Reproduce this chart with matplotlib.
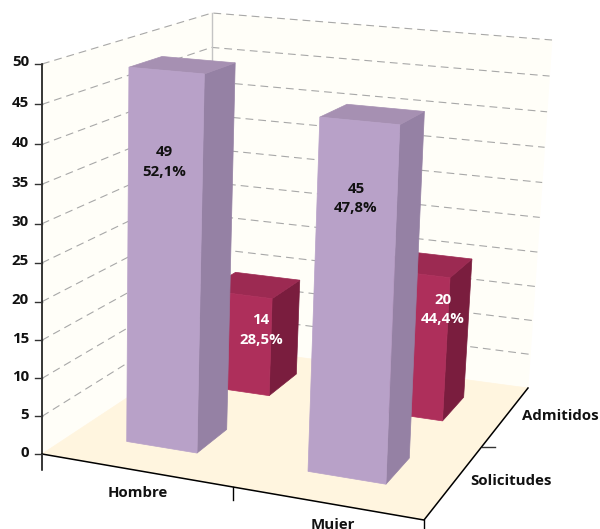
import numpy as np
import matplotlib
matplotlib.use("Agg")
import matplotlib.pyplot as plt
from matplotlib.patches import Polygon

plt.rcParams['font.family'] = ['Open Sans', 'DejaVu Sans']

# data
sexes = ["Hombre", "Mujer"]
groups = ["Solicitudes", "Admitidos"]
solicitudes = [49, 45]
admitidos = [14, 20]
pct_solicitudes = ["52,1%", "47,8%"]
pct_admitidos = ["28,5%", "44,4%"]
z_ticks = list(range(0, 55, 5))

# view geometry (pixel positions of the chart box corners)
floor_c = [(42, 454), (424, 520), (528, 388), (207, 345)]
top_c = [(38.5, 64), (439, 100), (552, 40), (212, 13)]
BOX = [(0, 0), (2, 0), (2, 2), (0, 2)]
ZMAX = 50
PERSP = 1.04
AXIS_X = 42
FS = 10.8

def homog(src, dst):
    A = []
    for (x, y), (u, v) in zip(src, dst):
        A.append([x, y, 1, 0, 0, 0, -u*x, -u*y, -u])
        A.append([0, 0, 0, x, y, 1, -v*x, -v*y, -v])
    return np.linalg.svd(np.array(A, float))[2][-1].reshape(3, 3)

HF, HT = homog(BOX, floor_c), homog(BOX, top_c)

def proj(x, y, z=0):
    a = HF @ [x, y, 1]; b = HT @ [x, y, 1]
    a = a[:2]/a[2]; b = b[:2]/b[2]
    s = z/ZMAX
    t = s/(s + (1-s)*PERSP)
    return tuple(a + (b-a)*t)

def axis_pt(z):
    return (AXIS_X, proj(0, 0, z)[1])

fig = plt.figure(figsize=(6.0, 5.29), dpi=100)
ax = fig.add_axes([0, 0, 1, 1])
ax.set_xlim(0, 600); ax.set_ylim(529, 0); ax.axis('off')

def face(pts, color, edge=None, z=1):
    ax.add_patch(Polygon(pts, closed=True, fc=color, ec=edge or color, lw=0.5, zorder=z))

WALL, FLOOR = '#FFFEF8', '#FFF5DF'
back_top = proj(0, 2, ZMAX)
face([axis_pt(0), proj(0,2,0), proj(0,2,ZMAX), axis_pt(ZMAX)], WALL)
face([proj(0,2,0), proj(2,2,0), proj(2,2,ZMAX), proj(0,2,ZMAX)], WALL)
face([axis_pt(0), proj(2,0,0), proj(2,2,0), proj(0,2,0)], FLOOR)

for z in z_ticks[1:]:
    p = [axis_pt(z), proj(0,2,z), proj(2,2,z)]
    ax.plot(*zip(*p), color='#A8A8A8', lw=0.8, dashes=(7, 4.5), zorder=2)
ax.plot([back_top[0]]*2, [proj(0,2,0)[1], back_top[1]], color='#C4C4C4', lw=1.0, zorder=2)

def bar(i, j, v, cols, y0):
    x0, x1 = i+0.31, i+0.71
    y1 = j+0.70
    f, s, t = cols
    face([proj(x1,y0,0), proj(x1,y1,0), proj(x1,y1,v), proj(x1,y0,v)], s, z=3-j)
    face([proj(x0,y0,v), proj(x1,y0,v), proj(x1,y1,v), proj(x0,y1,v)], t, z=3-j)
    face([proj(x0,y0,0), proj(x1,y0,0), proj(x1,y0,v), proj(x0,y0,v)], f, z=3-j)

LILAC = ('#B8A1C8', '#9581A4', '#A690B2')
RED = ('#AE2F5B', '#7A1D3E', '#9C2A52')
for i, v in enumerate(admitidos):
    bar(i, 1, v, RED, 1.285)
for i, v in enumerate(solicitudes):
    bar(i, 0, v, LILAC, 0.33)

# axes
X0 = axis_pt(0)
ax.plot(*zip(axis_pt(ZMAX), X0, (X0[0], X0[1]+16)), color='black', lw=1.1, zorder=5)
ax.plot(*zip(X0, proj(2,0,0), proj(2,2,0)), color='black', lw=1.1, zorder=5)
for z in z_ticks:
    px, py = axis_pt(z)
    ax.plot([px-7, px], [py, py], color='#333333', lw=1.0, zorder=5)
    ax.text(29, py-1.5, str(z), ha='right', va='center', fontsize=FS, fontweight='bold', color='#111111', zorder=6)
mx, my = (np.array(X0) + np.array(proj(2,0,0)))/2
ax.plot([mx, mx], [my, my+13], color='black', lw=1.0, zorder=5)
px, py = proj(2,0,0)
ax.plot([px, px], [py, py+13], color='black', lw=1.0, zorder=5)
px, py = proj(2,1,0)
ax.plot([px, px+13], [py, py], color='#333333', lw=1.0, zorder=5)

lab = dict(fontsize=FS, fontweight='bold', color='#111111', ha='center', va='center', zorder=6)
ax.text(138, 493, sexes[0], **lab)
ax.text(333, 525, sexes[1], **lab)
ax.text(511, 481, groups[0], **lab)
ax.text(560, 416, groups[1], **lab)

for (cx, y1, y2), v, p in zip([(164,152,172),(356,189,208)], solicitudes, pct_solicitudes):
    ax.text(cx, y1, str(v), **lab); ax.text(cx, y2, p, **lab)
for (cx, y1, y2), v, p in zip([(261,320,340),(443,300,319)], admitidos, pct_admitidos):
    ax.text(cx, y1, str(v), **{**lab, 'color': 'white'}); ax.text(cx, y2, p, **{**lab, 'color': 'white'})

fig.savefig('out.png', dpi=100)
